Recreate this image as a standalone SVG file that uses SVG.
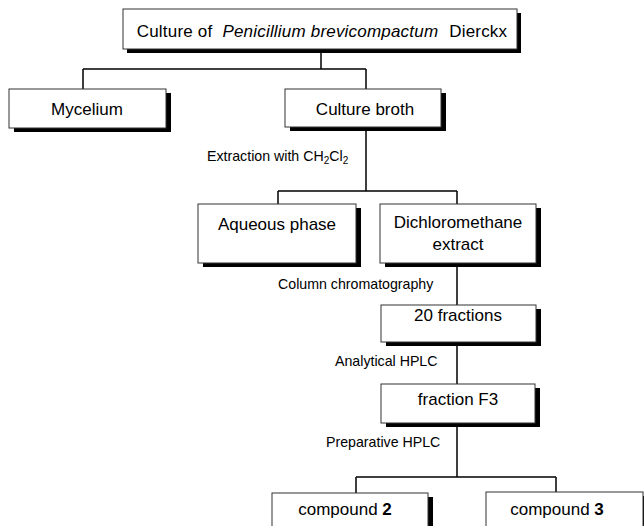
<svg xmlns="http://www.w3.org/2000/svg" width="644" height="526" viewBox="0 0 644 526">
<style>
.sh{fill:#000}
.bx{fill:#fff;stroke:#333;stroke-width:1}
.t{font-family:"Liberation Sans",Arial,sans-serif;font-size:17px;fill:#000;text-anchor:middle}
.s{font-family:"Liberation Sans",Arial,sans-serif;font-size:14.2px;fill:#000}
.ln{stroke:#000;stroke-width:1.5;fill:none}
</style>
<rect width="644" height="526" fill="#fff"/>
<g id="connectors">
<path class="ln" d="M321,53V69M83,69H366M83,69V89M366,69V89"/>
<path class="ln" d="M366,131V191M278,191H457M278,191V204M457,191V204"/>
<path class="ln" d="M457,267V305M457,346V384M457,427V477M356,477H556M356,477V493M556,477V492"/>
<text class="s" x="207" y="161">Extraction with CH<tspan font-size="10" dy="3">2</tspan><tspan dy="-3">Cl</tspan><tspan font-size="10" dy="3">2</tspan></text>
<text class="s" x="278" y="289">Column chromatography</text>
<text class="s" x="335" y="366">Analytical HPLC</text>
<text class="s" x="326" y="447">Preparative HPLC</text>
</g>
<g id="n-culture">
<rect class="sh" x="127" y="13" width="394" height="40"/>
<rect class="bx" x="123" y="9" width="394" height="40"/>
<text class="t" x="322" y="37" font-size="18" letter-spacing="0.2">Culture of <tspan dx="5" font-style="italic">Penicillium brevicompactum</tspan><tspan dx="6"> Dierckx</tspan></text>
</g>
<g id="n-mycelium">
<rect class="sh" x="14" y="93" width="157" height="39"/>
<rect class="bx" x="9" y="89" width="157" height="39"/>
<text class="t" x="87" y="115">Mycelium</text>
</g>
<g id="n-broth">
<rect class="sh" x="290" y="93" width="156" height="38"/>
<rect class="bx" x="285" y="89" width="156" height="38"/>
<text class="t" x="365" y="115">Culture broth</text>
</g>
<g id="n-aqueous">
<rect class="sh" x="203" y="208" width="158" height="59"/>
<rect class="bx" x="198" y="204" width="158" height="59"/>
<text class="t" x="277" y="230">Aqueous phase</text>
</g>
<g id="n-dcm">
<rect class="sh" x="385" y="208" width="156" height="59"/>
<rect class="bx" x="380" y="204" width="156" height="59"/>
<text class="t" x="458" y="228">Dichloromethane</text>
<text class="t" x="458" y="250">extract</text>
</g>
<g id="n-fractions">
<rect class="sh" x="386" y="309" width="155" height="37"/>
<rect class="bx" x="381" y="305" width="155" height="37"/>
<text class="t" x="458" y="321">20 fractions</text>
</g>
<g id="n-f3">
<rect class="sh" x="386" y="388" width="154" height="39"/>
<rect class="bx" x="381" y="384" width="154" height="39"/>
<text class="t" x="458" y="405">fraction F3</text>
</g>
<g id="n-c2">
<rect class="sh" x="277" y="497" width="156" height="40"/>
<rect class="bx" x="272" y="493" width="156" height="40"/>
<text class="t" x="345" y="515">compound <tspan font-weight="bold">2</tspan></text>
</g>
<g id="n-c3">
<rect class="sh" x="491" y="496" width="157" height="40"/>
<rect class="bx" x="486" y="492" width="157" height="40"/>
<text class="t" x="557" y="515">compound <tspan font-weight="bold">3</tspan></text>
</g>
</svg>
